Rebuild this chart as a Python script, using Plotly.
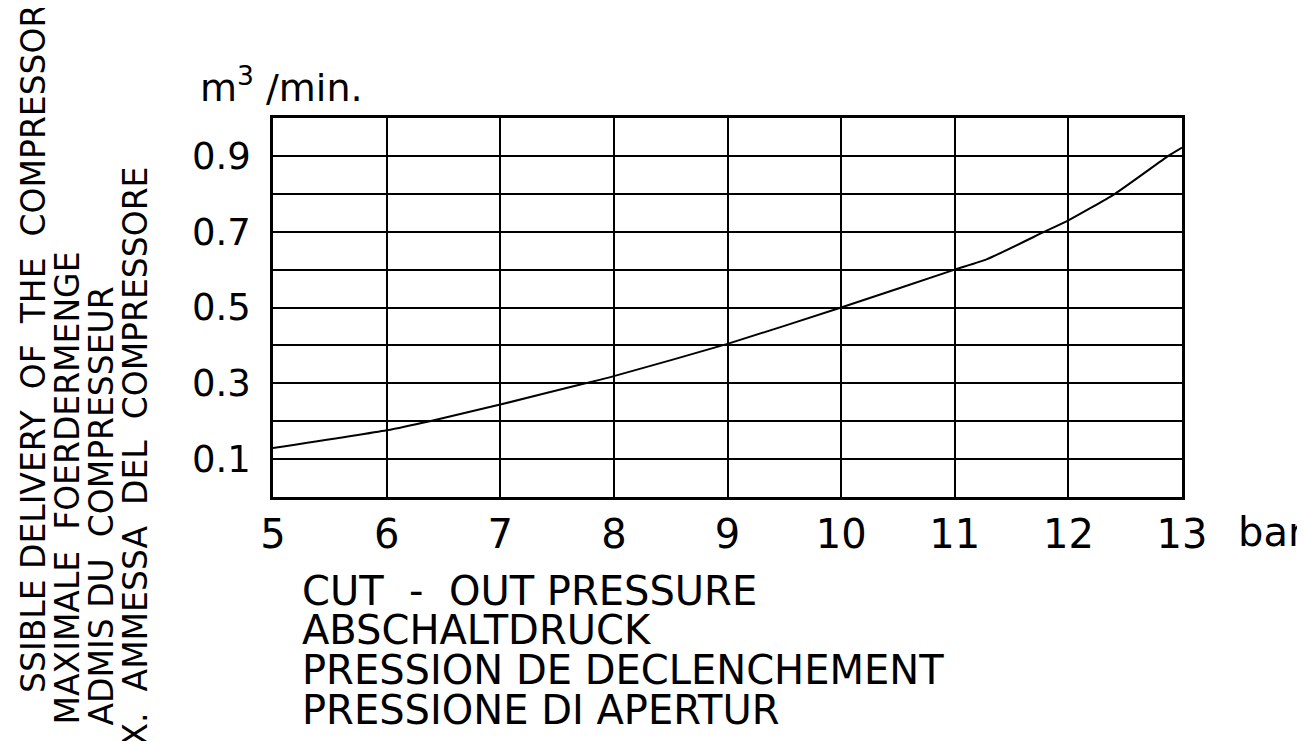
import plotly.graph_objects as go

# ---- data ----
pressure_bar = [5.0, 6.0, 6.38, 7.0, 7.75, 8.0, 9.0, 10.0, 11.0, 11.28, 11.79, 12.0, 12.41, 12.88, 13.0]
delivery_m3min = [0.129, 0.176, 0.200, 0.244, 0.300, 0.319, 0.404, 0.500, 0.600, 0.627, 0.700, 0.730, 0.800, 0.900, 0.922]

x_ticks = [5, 6, 7, 8, 9, 10, 11, 12, 13]
y_ticks = [0.1, 0.3, 0.5, 0.7, 0.9]
y_tick_text = ["0.1", "0.3", "0.5", "0.7", "0.9"]
y_minor = [0.0, 0.2, 0.4, 0.6, 0.8, 1.0]

y_unit = "m<sup>3</sup> /min."
x_unit = "bar"
x_title_lines = [
    "CUT  -  OUT PRESSURE",
    "ABSCHALTDRUCK",
    "PRESSION DE DECLENCHEMENT",
    "PRESSIONE DI APERTUR",
]
y_title_cols = [
    "SSIBLE DELIVERY  OF  THE  COMPRESSOR",
    "MAXIMALE  FOERDERMENGE",
    "ADMIS DU  COMPRESSEUR",
    "X.  AMMESSA  DEL  COMPRESSORE",
]

# page body has an 8px default margin: shrink the figure and shift everything
OFF = 8
W, H = 1305 - OFF, 741 - OFF
L, R, T, B = 273 - OFF, 123, 118 - OFF, 244
FONT = "DejaVu Sans"

def px(x):
    return (x - OFF - L) / (W - L - R)

def py(y):
    return (H - B - (y - OFF)) / (H - T - B)

fig = go.Figure()
fig.add_trace(go.Scatter(
    x=pressure_bar, y=delivery_m3min, mode="lines",
    line=dict(color="black", width=2, shape="spline", smoothing=0.5),
    showlegend=False, hoverinfo="skip",
))

fig.update_layout(
    width=W, height=H,
    margin=dict(l=L, r=R, t=T, b=B),
    paper_bgcolor="white", plot_bgcolor="white",
    font=dict(family=FONT, color="black"),
    xaxis=dict(
        range=[5, 13], tickvals=x_ticks, showgrid=True, gridcolor="black", gridwidth=1.8,
        showline=True, linecolor="black", linewidth=2.5, mirror=True,
        ticks="", tickfont=dict(size=40, family=FONT, color="black"),
        ticklabelstandoff=0, zeroline=False, fixedrange=True,
    ),
    yaxis=dict(
        range=[0, 1.0], tickvals=y_ticks, ticktext=y_tick_text, showgrid=True,
        gridcolor="black", gridwidth=1.8,
        minor=dict(tickvals=y_minor, showgrid=True, gridcolor="black", gridwidth=1.8, ticks=""),
        showline=True, linecolor="black", linewidth=2.5, mirror=True,
        ticks="", tickfont=dict(size=37, family=FONT, color="black"),
        ticklabelstandoff=12, zeroline=False, fixedrange=True,
    ),
)

ann = []
ann.append(dict(text=y_unit, x=px(198), y=py(85), xref="paper", yref="paper",
                xanchor="left", yanchor="middle", showarrow=False,
                font=dict(size=38, family=FONT, color="black")))
ann.append(dict(text=x_unit, x=px(1236), y=py(532), xref="paper", yref="paper",
                xanchor="left", yanchor="middle", showarrow=False,
                font=dict(size=40, family=FONT, color="black")))
for line, cy in zip(x_title_lines, [591, 630, 670, 710]):
    ann.append(dict(text=line, x=px(300), y=py(cy), xref="paper", yref="paper",
                    xanchor="left", yanchor="middle", showarrow=False,
                    font=dict(size=40, family=FONT, color="black")))
for col, cx, top in zip(y_title_cols, [33, 67, 101, 135], [3, 250, 285, 165]):
    ann.append(dict(text=col, x=px(cx), y=py(top), xref="paper", yref="paper",
                    xanchor="center", yanchor="top", textangle=-90, showarrow=False,
                    font=dict(size=33, family=FONT, color="black")))
fig.update_layout(annotations=ann)

fig.write_html("out.html")
